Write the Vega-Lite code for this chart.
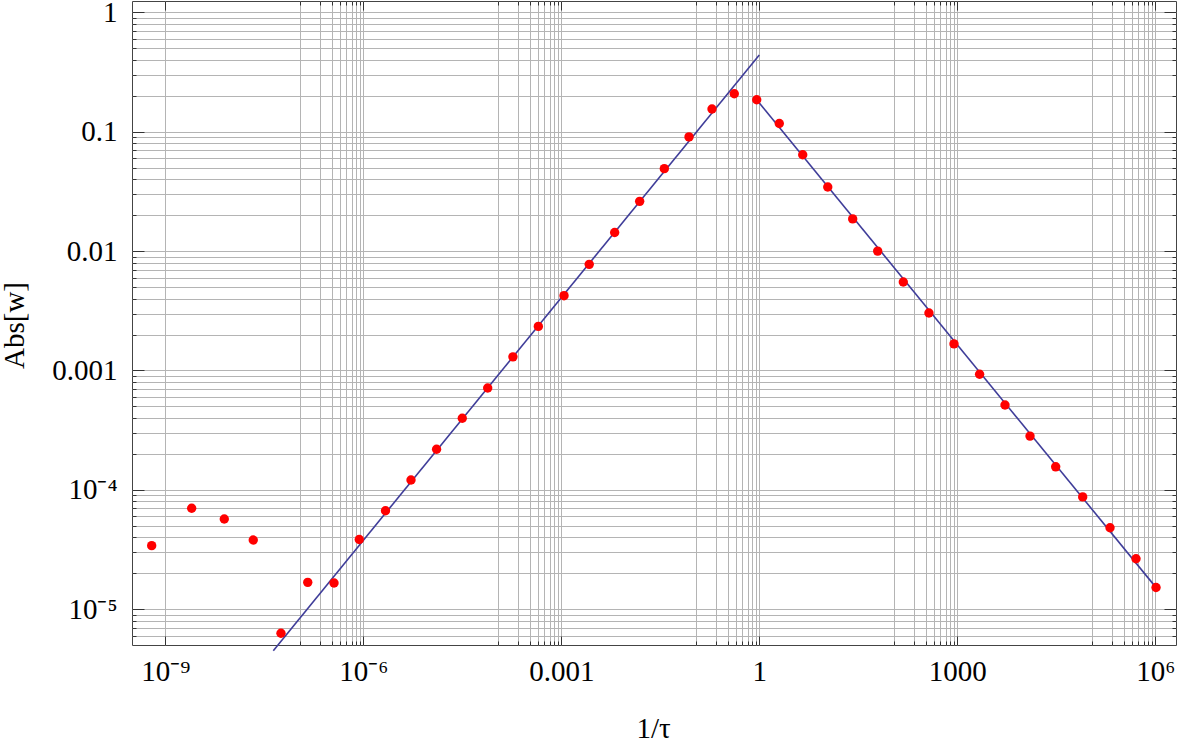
{
  "$schema": "https://vega.github.io/schema/vega-lite/v6.json",
  "width": 1044,
  "height": 644,
  "autosize": {"type": "none"},
  "padding": {"left": 132, "top": 1, "right": 1, "bottom": 97},
  "background": "white",
  "view": {"stroke": "#444444", "strokeWidth": 1},
  "config": {
    "font": "Liberation Serif",
    "axis": {
      "domain": false,
      "labelFont": "Liberation Serif",
      "labelFontSize": 29,
      "labelColor": "#000000",
      "titleFont": "Liberation Serif",
      "titleFontSize": 29,
      "titleFontWeight": "normal",
      "titleColor": "#000000",
      "tickColor": "#333333",
      "tickWidth": 1,
      "gridColor": "#b4b4b4",
      "gridWidth": 1,
      "gridOpacity": 1,
      "labelOverlap": false,
      "labelFlush": false,
      "labelBound": false
    }
  },
  "datasets": {
    "pts": [
      {"x": 6.22e-10, "y": 3.41e-5},
      {"x": 2.51e-9, "y": 7.01e-5},
      {"x": 7.83e-9, "y": 5.70e-5},
      {"x": 2.15e-8, "y": 3.80e-5},
      {"x": 5.66e-8, "y": 6.30e-6},
      {"x": 1.44e-7, "y": 1.68e-5},
      {"x": 3.60e-7, "y": 1.66e-5},
      {"x": 8.69e-7, "y": 3.84e-5},
      {"x": 2.17e-6, "y": 6.68e-5},
      {"x": 5.28e-6, "y": 1.21e-4},
      {"x": 1.29e-5, "y": 2.19e-4},
      {"x": 3.16e-5, "y": 3.98e-4},
      {"x": 7.67e-5, "y": 7.13e-4},
      {"x": 1.85e-4, "y": 1.30e-3},
      {"x": 4.49e-4, "y": 2.34e-3},
      {"x": 1.10e-3, "y": 4.23e-3},
      {"x": 2.65e-3, "y": 7.74e-3},
      {"x": 6.44e-3, "y": 1.43e-2},
      {"x": 1.54e-2, "y": 2.61e-2},
      {"x": 3.64e-2, "y": 4.90e-2},
      {"x": 8.61e-2, "y": 9.04e-2},
      {"x": 0.192, "y": 0.155},
      {"x": 0.418, "y": 0.208},
      {"x": 0.914, "y": 0.185},
      {"x": 2.01, "y": 0.117},
      {"x": 4.55, "y": 6.41e-2},
      {"x": 10.9, "y": 3.44e-2},
      {"x": 26.0, "y": 1.86e-2},
      {"x": 62.2, "y": 1.00e-2},
      {"x": 152, "y": 5.51e-3},
      {"x": 372, "y": 3.03e-3},
      {"x": 891, "y": 1.67e-3},
      {"x": 2178, "y": 9.29e-4},
      {"x": 5284, "y": 5.14e-4},
      {"x": 12650, "y": 2.82e-4},
      {"x": 30970, "y": 1.56e-4},
      {"x": 79430, "y": 8.73e-5},
      {"x": 206100, "y": 4.82e-5},
      {"x": 510500, "y": 2.65e-5},
      {"x": 1026000, "y": 1.52e-5}
    ],
    "fit": [
      {"seg": "left", "x": 4.33e-8, "y": 4.50e-6},
      {"seg": "left", "x": 1, "y": 0.439},
      {"seg": "right", "x": 0.914, "y": 0.185},
      {"seg": "right", "x": 979000, "y": 1.57e-5}
    ]
  },
  "resolve": {"axis": {"x": "independent", "y": "independent"}},
  "layer": [
    {
      "data": {"name": "fit"},
      "mark": {"type": "line", "color": "#3F3D99", "strokeWidth": 1.6},
      "encoding": {
        "detail": {"field": "seg", "type": "nominal"},
        "x": {
          "field": "x",
          "type": "quantitative",
          "scale": {"type": "log", "domain": [3.13e-10, 2.06e6], "nice": false},
          "axis": {
            "orient": "top",
            "title": null,
            "labels": false,
            "grid": false,
            "values": [1e-9, 1.111e-7, 2.222e-7, 3.333e-7, 4.444e-7, 5.556e-7, 6.667e-7, 7.778e-7, 8.889e-7, 1e-6, 1.111e-4, 2.222e-4, 3.333e-4, 4.444e-4, 5.556e-4, 6.667e-4, 7.778e-4, 8.889e-4, 0.001, 0.1111, 0.2222, 0.3333, 0.4444, 0.5556, 0.6667, 0.7778, 0.8889, 1, 111.1, 222.2, 333.3, 444.4, 555.6, 666.7, 777.8, 888.9, 1000, 111111, 222222, 333333, 444444, 555556, 666667, 777778, 888889, 1000000],
            "tickSize": {"condition": {"test": "abs(log(datum.value)/LN10 - round(log(datum.value)/LN10)) < 0.01", "value": -9}, "value": -4}
          }
        },
        "y": {
          "field": "y",
          "type": "quantitative",
          "scale": {"type": "log", "domain": [5.02e-6, 1.243], "nice": false},
          "axis": {
            "orient": "right",
            "title": null,
            "labels": false,
            "grid": false,
            "values": [6e-6, 7e-6, 8e-6, 9e-6, 1e-5, 2e-5, 3e-5, 4e-5, 5e-5, 6e-5, 7e-5, 8e-5, 9e-5, 1e-4, 2e-4, 3e-4, 4e-4, 5e-4, 6e-4, 7e-4, 8e-4, 9e-4, 0.001, 0.002, 0.003, 0.004, 0.005, 0.006, 0.007, 0.008, 0.009, 0.01, 0.02, 0.03, 0.04, 0.05, 0.06, 0.07, 0.08, 0.09, 0.1, 0.2, 0.3, 0.4, 0.5, 0.6, 0.7, 0.8, 0.9, 1],
            "tickSize": {"condition": {"test": "abs(log(datum.value)/LN10 - round(log(datum.value)/LN10)) < 0.01", "value": -12}, "value": -4}
          }
        }
      }
    },
    {
      "data": {"name": "pts"},
      "mark": {"type": "circle", "color": "#FF0000", "opacity": 1, "size": 88},
      "encoding": {
        "x": {
          "field": "x",
          "type": "quantitative",
          "scale": {"type": "log", "domain": [3.13e-10, 2.06e6], "nice": false},
          "axis": {
            "orient": "bottom",
            "title": "1/τ",
            "titleFontSize": 29,
            "titleX": 521,
            "titleY": 92,
            "titleBaseline": "alphabetic",
            "grid": true,
            "values": [1e-9, 1.111e-7, 2.222e-7, 3.333e-7, 4.444e-7, 5.556e-7, 6.667e-7, 7.778e-7, 8.889e-7, 1e-6, 1.111e-4, 2.222e-4, 3.333e-4, 4.444e-4, 5.556e-4, 6.667e-4, 7.778e-4, 8.889e-4, 0.001, 0.1111, 0.2222, 0.3333, 0.4444, 0.5556, 0.6667, 0.7778, 0.8889, 1, 111.1, 222.2, 333.3, 444.4, 555.6, 666.7, 777.8, 888.9, 1000, 111111, 222222, 333333, 444444, 555556, 666667, 777778, 888889, 1000000],
            "tickSize": {"condition": {"test": "abs(log(datum.value)/LN10 - round(log(datum.value)/LN10)) < 0.01", "value": -9}, "value": -4},
            "labelBaseline": "alphabetic",
            "labelFontSize": 29,
            "labelPadding": 44,
            "labelExpr": "abs(log(datum.value)/LN10 - round(log(datum.value)/LN10)) > 0.01 ? '' : (datum.value < 1e-8 ? '10⁻⁹' : datum.value < 1e-5 ? '10⁻⁶' : datum.value < 0.01 ? '0.001' : datum.value < 10 ? '1' : datum.value < 1e4 ? '1000' : '10⁶')"
          }
        },
        "y": {
          "field": "y",
          "type": "quantitative",
          "scale": {"type": "log", "domain": [5.02e-6, 1.243], "nice": false},
          "axis": {
            "orient": "left",
            "title": "Abs[w]",
            "titleFontSize": 29,
            "titleAngle": 270,
            "titleX": -109,
            "titleY": 324,
            "titleAlign": "center",
            "titleBaseline": "alphabetic",
            "grid": true,
            "values": [6e-6, 7e-6, 8e-6, 9e-6, 1e-5, 2e-5, 3e-5, 4e-5, 5e-5, 6e-5, 7e-5, 8e-5, 9e-5, 1e-4, 2e-4, 3e-4, 4e-4, 5e-4, 6e-4, 7e-4, 8e-4, 9e-4, 0.001, 0.002, 0.003, 0.004, 0.005, 0.006, 0.007, 0.008, 0.009, 0.01, 0.02, 0.03, 0.04, 0.05, 0.06, 0.07, 0.08, 0.09, 0.1, 0.2, 0.3, 0.4, 0.5, 0.6, 0.7, 0.8, 0.9, 1],
            "tickSize": {"condition": {"test": "abs(log(datum.value)/LN10 - round(log(datum.value)/LN10)) < 0.01", "value": -12}, "value": -4},
            "labelFontSize": 29,
            "labelPadding": 27,
            "labelBaseline": "middle",
            "labelExpr": "abs(log(datum.value)/LN10 - round(log(datum.value)/LN10)) > 0.01 ? '' : (datum.value > 0.5 ? '1' : datum.value > 0.05 ? '0.1' : datum.value > 0.005 ? '0.01' : datum.value > 0.0005 ? '0.001' : datum.value > 5e-5 ? '10⁻⁴' : '10⁻⁵')"
          }
        }
      }
    }
  ]
}
